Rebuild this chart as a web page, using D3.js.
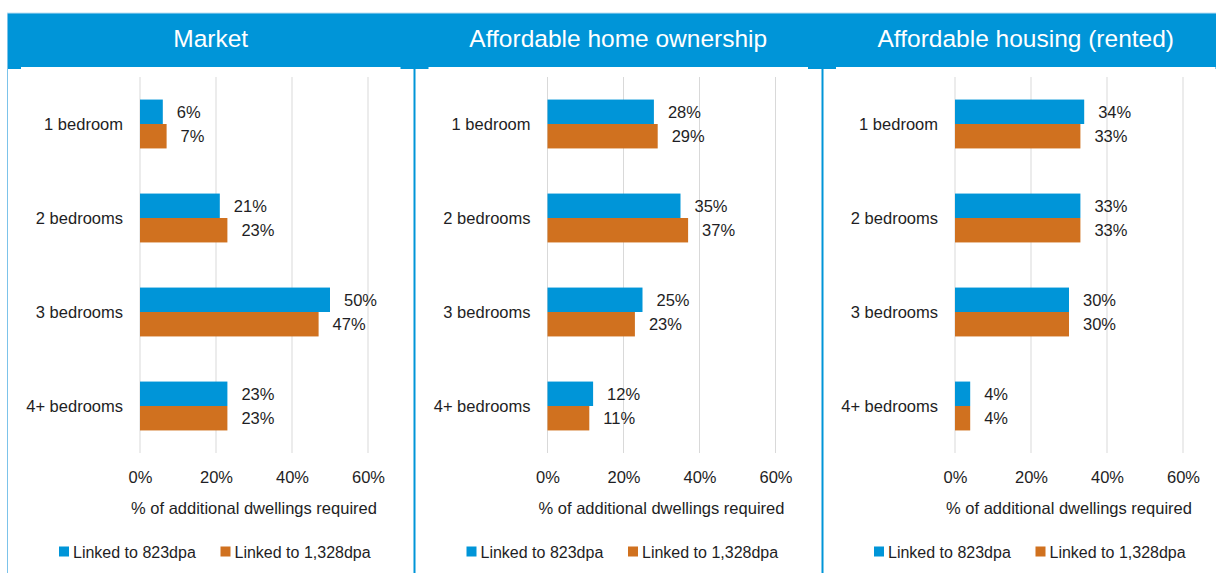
<!DOCTYPE html>
<html>
<head>
<meta charset="utf-8">
<script src="https://cdn.jsdelivr.net/npm/d3@7"></script>
<style>
  html, body { margin: 0; padding: 0; background: #ffffff; }
  svg { display: block; font-family: "Liberation Sans", Arial, sans-serif; }
</style>
</head>
<body>
<svg id="chart" width="1216" height="573"></svg>
<script>
// Dwelling size mix by tenure, two housing need scenarios
const panelTitles = ["Market", "Affordable home ownership", "Affordable housing (rented)"];
const categories = ["1 bedroom", "2 bedrooms", "3 bedrooms", "4+ bedrooms"];
const seriesNames = ["Linked to 823dpa", "Linked to 1,328dpa"];

const market823 = [6, 21, 50, 23];
const market1328 = [7, 23, 47, 23];
const ownership823 = [28, 35, 25, 12];
const ownership1328 = [29, 37, 23, 11];
const rented823 = [34, 33, 30, 4];
const rented1328 = [33, 33, 30, 4];

const tickValues = [0, 20, 40, 60];
const axisTitle = "% of additional dwellings required";

const panelValues = [
  [market823, market1328],
  [ownership823, ownership1328],
  [rented823, rented1328]
];

const blue = "#0095d8";
const orange = "#d0711f";
const seriesColors = [blue, orange];
const textColor = "#1e1e24";
const gridColor = "#d9d9d9";

const svg = d3.select("#chart");
const panelWidth = 407.5;
const panelLeft0 = 7;
const headerTop = 13, headerBottom = 67;

panelTitles.forEach((title, i) => {
  const left = panelLeft0 + i * panelWidth;
  const g = svg.append("g").attr("transform", `translate(${left},0)`);

  // header band
  g.append("rect")
    .attr("x", 0).attr("y", headerTop)
    .attr("width", panelWidth + 1).attr("height", headerBottom - headerTop + 2)
    .attr("fill", blue);
  g.append("rect")
    .attr("x", 14).attr("y", headerBottom)
    .attr("width", panelWidth - 28).attr("height", 2)
    .attr("fill", "#ffffff");
  g.append("text")
    .attr("x", panelWidth / 2).attr("y", 47)
    .attr("text-anchor", "middle")
    .attr("fill", "#ffffff")
    .attr("font-size", 24.5)
    .text(title);

  // scales
  const x = d3.scaleLinear().domain([0, 60]).range([133, 361]);
  const y = d3.scaleBand().domain(categories).range([77, 453]).paddingInner(0.48).paddingOuter(0.24);
  const ySub = d3.scaleBand().domain(seriesNames).range([0, y.bandwidth()]);

  // gridlines
  g.append("g").selectAll("line")
    .data(tickValues)
    .join("line")
    .attr("x1", d => x(d)).attr("x2", d => x(d))
    .attr("y1", 77).attr("y2", 453)
    .attr("stroke", gridColor).attr("stroke-width", 1);

  // x axis tick labels
  const xAxis = d3.axisBottom(x).tickValues(tickValues).tickFormat(d => d + "%").tickSize(0).tickPadding(0);
  const ax = g.append("g").attr("transform", "translate(0,470)").call(xAxis);
  ax.select(".domain").remove();
  ax.selectAll("text")
    .attr("font-size", 16.5).attr("fill", textColor)
    .attr("font-family", "\"Liberation Sans\", Arial, sans-serif")
    .attr("dy", "0.71em").attr("y", 1);

  // y axis category labels
  const yAxis = d3.axisLeft(y).tickSize(0).tickPadding(17);
  const ay = g.append("g").attr("transform", `translate(${x(0)},1)`).call(yAxis);
  ay.select(".domain").remove();
  ay.selectAll("text")
    .attr("font-size", 16.5).attr("fill", textColor)
    .attr("font-family", "\"Liberation Sans\", Arial, sans-serif");

  // axis title
  g.append("text")
    .attr("x", (x(0) + x(60)) / 2).attr("y", 514)
    .attr("text-anchor", "middle")
    .attr("font-size", 16.5).attr("fill", textColor)
    .text(axisTitle);

  // bars and value labels
  const rows = [];
  panelValues[i].forEach((vals, s) => {
    vals.forEach((v, c) => rows.push({ s, cat: categories[c], v }));
  });
  const bars = g.append("g");
  bars.selectAll("rect")
    .data(rows)
    .join("rect")
    .attr("x", x(0))
    .attr("y", d => y(d.cat) + ySub(seriesNames[d.s]))
    .attr("width", d => x(d.v) - x(0))
    .attr("height", ySub.bandwidth())
    .attr("fill", d => seriesColors[d.s]);
  bars.selectAll("text")
    .data(rows)
    .join("text")
    .attr("x", d => x(d.v) + 14)
    .attr("y", d => y(d.cat) + ySub(seriesNames[d.s]) + ySub.bandwidth() / 2 + 6)
    .attr("font-size", 16.5).attr("fill", textColor)
    .text(d => d.v + "%");

  // legend
  const legendX = [52, 213.5];
  const lg = g.append("g");
  seriesNames.forEach((name, s) => {
    lg.append("rect")
      .attr("x", legendX[s]).attr("y", 546.5)
      .attr("width", 10).attr("height", 10)
      .attr("fill", seriesColors[s]);
    lg.append("text")
      .attr("x", legendX[s] + 14).attr("y", 558)
      .attr("font-size", 16).attr("fill", textColor)
      .text(name);
  });
});

// panel borders
svg.append("line")
  .attr("x1", 7.5).attr("x2", 7.5).attr("y1", headerTop).attr("y2", 573)
  .attr("stroke", "#7cc3ea").attr("stroke-width", 1);
svg.append("line")
  .attr("x1", 7).attr("x2", 1216).attr("y1", headerTop).attr("y2", headerTop)
  .attr("stroke", "#bfe0f3").attr("stroke-width", 1);
[414.5, 822.5].forEach(bx => {
  svg.append("line")
    .attr("x1", bx).attr("x2", bx).attr("y1", headerBottom).attr("y2", 573)
    .attr("stroke", blue).attr("stroke-width", 2);
});
</script>
</body>
</html>
